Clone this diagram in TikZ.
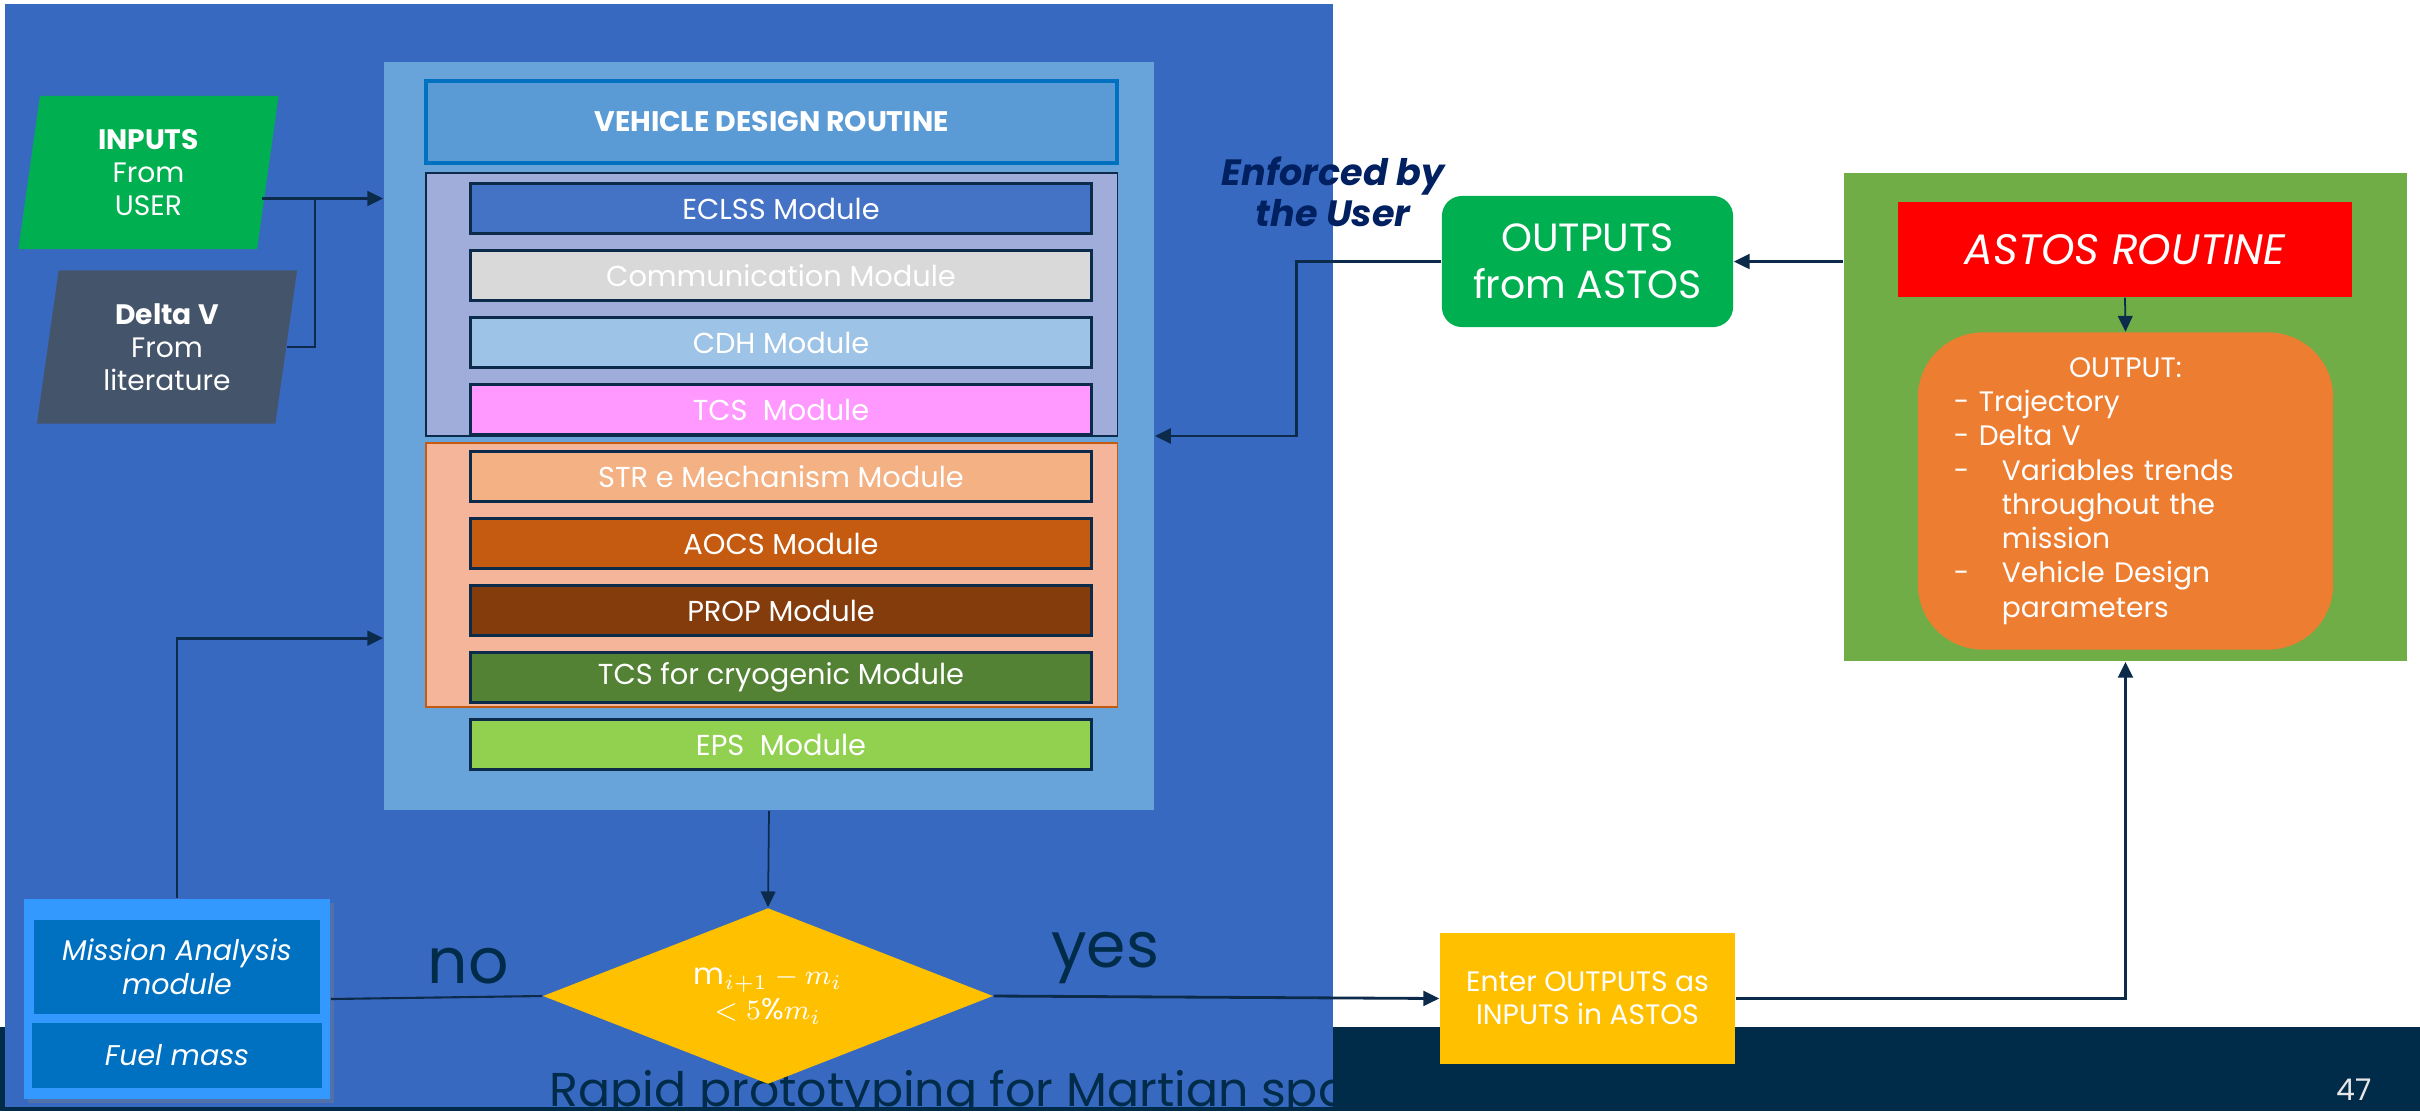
\documentclass[tikz,border=0pt]{standalone}
\usepackage{fontspec}
\setmainfont{Poppins}
\usepackage{tikz}
\usetikzlibrary{
	arrows.meta,
	positioning,
	shapes.geometric,
	shadows
}

\definecolor{panel}{HTML}{3869C1}
\definecolor{vdrblue}{HTML}{68A3D9}
\definecolor{hdrblue}{HTML}{5B9BD5}
\definecolor{hdredge}{HTML}{0070C0}
\definecolor{lavend}{HTML}{A0ADDA}
\definecolor{salmon}{HTML}{F4B59B}
\definecolor{salmedge}{HTML}{C55A11}
\definecolor{lnk}{HTML}{0C2B4B}
\definecolor{footer}{HTML}{002B49}
\definecolor{enfnavy}{HTML}{002060}
\definecolor{eclss}{HTML}{4472C4}
\definecolor{comm}{HTML}{D9D9D9}
\definecolor{cdh}{HTML}{9DC3E6}
\definecolor{tcs}{HTML}{FF99FF}
\definecolor{strm}{HTML}{F4B183}
\definecolor{aocs}{HTML}{C55A11}
\definecolor{prop}{HTML}{843C0C}
\definecolor{cryo}{HTML}{548235}
\definecolor{eps}{HTML}{92D050}
\definecolor{gin}{HTML}{00B050}
\definecolor{slate}{HTML}{44546A}
\definecolor{astgreen}{HTML}{70AD47}
\definecolor{astred}{HTML}{FF0000}
\definecolor{astorange}{HTML}{ED7D31}
\definecolor{gold}{HTML}{FFC000}
\definecolor{misblue}{HTML}{3399FF}
\definecolor{misdark}{HTML}{0070C0}
\definecolor{pgnum}{HTML}{E6E6E6}

\begin{document}
\begin{tikzpicture}[
			x=0.01cm, y=-0.01cm,
			font=\fontsize{8.2}{9.5}\selectfont,
			>={Triangle[length=4.5pt, width=4.2pt]},
			fl/.style={->, line width=0.8pt, draw=lnk},
			fln/.style={->, line width=0.5pt, draw=lnk},
			ln/.style={line width=0.6pt, draw=lnk},
			modul/.style={draw=lnk, line width=0.8pt, minimum width=6.2cm, minimum height=0.5cm, inner sep=0pt, outer sep=0pt, text=white},
			grp/.style={draw=lnk, line width=0.4pt, minimum width=6.91cm, inner sep=0pt},
			para/.style={trapezium, trapezium left angle=76, trapezium right angle=104, trapezium stretches body, minimum width=2.6cm, minimum height=1.53cm, inner sep=0pt, text=white, align=center, font=\fontsize{8}{9.4}\selectfont},
			rnd/.style={rounded corners=0.2cm, text=white, align=center},
			big/.style={text=footer, font=\fontsize{18}{20}\selectfont}
		]

		\fill[white] (0,0) rectangle (2420,1111);
		\useasboundingbox (0,0) rectangle (2420,1111);
		\fill[footer] (0,1027) rectangle (2420,1111);
		\fill[panel] (5,4) rectangle (1333,1107);
		\begin{scope}
			\clip (5,4) rectangle (1333,1107);
			\node[anchor=base west, inner sep=0pt, text=footer, font=\fontsize{13.5}{15}\selectfont] (foot) at (549,1106) {Rapid prototyping for Martian spa};
		\end{scope}

		% vehicle design routine
		\node[fill=vdrblue, minimum width=7.7cm, minimum height=7.48cm, inner sep=0pt] (vdr) at (769,436) {};
		\node[fill=hdrblue, draw=hdredge, line width=1pt, minimum width=6.91cm, minimum height=0.82cm, text=white, font=\bfseries\fontsize{8.05}{9.5}\selectfont] (hdr) at (771.5,122) {VEHICLE DESIGN ROUTINE};
		\node[grp, fill=lavend, minimum height=2.63cm] (grpa) at (771.5,304.5) {};
		\node[grp, fill=salmon, draw=salmedge, minimum height=2.64cm] (grpb) at (771.5,575) {};

		\node[modul, fill=eclss] (eclss) at (781,208.5) {ECLSS Module};
		\node[modul, fill=comm, below=0.17cm of eclss] (comm) {Communication Module};
		\node[modul, fill=cdh, below=0.17cm of comm] (cdh) {CDH Module};
		\node[modul, fill=tcs, below=0.17cm of cdh] (tcs) {TCS\ \ Module};
		\node[modul, fill=strm, below=0.17cm of tcs] (strm) {STR e Mechanism Module};
		\node[modul, fill=aocs, below=0.17cm of strm] (aocs) {AOCS Module};
		\node[modul, fill=prop, below=0.17cm of aocs] (prop) {PROP Module};
		\node[modul, fill=cryo, below=0.17cm of prop] (cryo) {TCS for cryogenic Module};
		\node[modul, fill=eps, below=0.17cm of cryo] (eps) {EPS\ \ Module};

		% inputs
		\node[para, fill=gin] (inputs) at (148.5,172.5) {\textbf{INPUTS}\\From\\USER};
		\node[para, fill=slate] (deltav) at (167,347) {\textbf{Delta V}\\From\\literature};

		% astos side
		\node[text=enfnavy, align=center, font=\bfseries\itshape\fontsize{10.4}{11.8}\selectfont] (enf) at (1333,192) {Enforced by\\the User};
		\node[rnd, fill=gin, minimum width=2.91cm, minimum height=1.31cm, font=\fontsize{11.2}{13.3}\selectfont] (outs) at (1587.5,261.5) {OUTPUTS\\from ASTOS};
		\node[fill=astgreen, minimum width=5.63cm, minimum height=4.88cm, inner sep=0pt] (astos) at (2125.5,417) {};
		\node[fill=astred, minimum width=4.54cm, minimum height=0.95cm, text=white, font=\itshape\fontsize{12.1}{13}\selectfont] (astred) at (2125,249.5) {ASTOS ROUTINE};
		\node[fill=astorange, rounded corners=0.65cm, minimum width=4.15cm, minimum height=3.17cm, text width=3.43cm, align=left, inner sep=0pt, text=white, font=\fontsize{8}{9.75}\selectfont] (astout) at (2125.5,491) {\null\hfill OUTPUT:\hfill\null\\
			- Trajectory\\
			- Delta V\\
			\makebox[0.48cm][l]{-}Variables trends\\
			\hspace*{0.48cm}throughout the\\
			\hspace*{0.48cm}mission\\
			\makebox[0.48cm][l]{-}Vehicle Design\\
			\hspace*{0.48cm}parameters};

		% loop check
		\node[fill=misblue, minimum width=3.06cm, minimum height=2cm, drop shadow={opacity=0.35, shadow xshift=0.04cm, shadow yshift=-0.04cm}] (mission) at (177,999) {};
		\node[fill=misdark, minimum width=2.86cm, minimum height=0.94cm, text=white, align=center, font=\itshape\fontsize{8.1}{9.6}\selectfont] (misa) at (177,967) {Mission Analysis\\module};
		\node[fill=misdark, minimum width=2.9cm, minimum height=0.65cm, text=white, font=\itshape\fontsize{8.1}{9.6}\selectfont] (fuel) at (177,1055.5) {Fuel mass};
		\node[diamond, fill=gold, minimum width=4.5cm, minimum height=1.76cm, aspect=2.56, inner sep=0pt, text=white, align=center, font=\fontsize{8.5}{10}\selectfont] (dec) at (768,996) {$\mathrm{m}_{i+1}-m_i$\\$<5\%m_i$};
		\node[fill=gold, minimum width=2.95cm, minimum height=1.31cm, text=white, align=center, font=\fontsize{8}{9.4}\selectfont] (enter) at (1587.5,998.5) {Enter OUTPUTS as\\INPUTS in ASTOS};
		\node[text=pgnum, font=\fontsize{8.5}{9}\selectfont] (pg) at (2354,1090) {47};

		\coordinate (inpe) at ([xshift=-0.07cm, yshift=-0.26cm]inputs.east);
		\coordinate (inj) at (315,199);
		\draw[fl] (inpe) -- (vdr.west |- inpe);
		\draw[ln] (deltav.east) -| (inj);
		\draw[fl] (mission.north) |- ([yshift=-2.02cm]vdr.west);
		\draw[fln] (vdr.south) -- (dec.north);
		\draw[ln] (dec.west) -- node[big, pos=0.35, above] {no} (mission.east);
		\draw[fl] (dec.east) -- node[big, pos=0.25, above] {yes} (enter.west);
		\draw[fl] (enter.east) -| (astos.south);
		\draw[fln] (astred.south) -- (astout.north);
		\draw[fl] (astos.west |- outs.east) -- (outs.east);
		\draw[fl] (outs.west) -- ++(-145,0) |- (vdr.east);
	\end{tikzpicture}
\end{document}
